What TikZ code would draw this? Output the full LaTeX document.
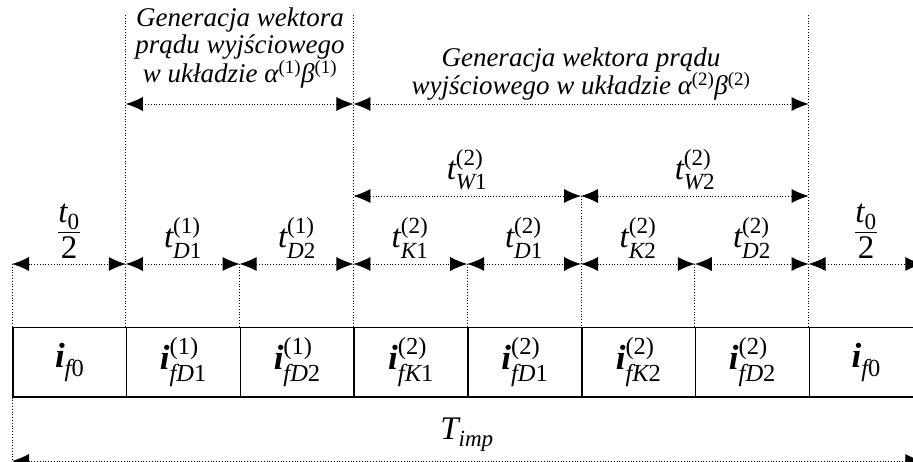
\documentclass[tikz,border=0pt]{standalone}
\usepackage{amsmath}
\usepackage{fontspec}
\setmainfont{Liberation Serif}
\usetikzlibrary{arrows.meta}
\newcommand{\bvec}{\text{\bfseries\itshape i}}
\begin{document}
\begin{tikzpicture}[x=1pt,y=-1pt,
  tip/.tip={Latex[length=17pt,width=14pt]},
  dim/.style={dotted, line width=0.8pt, {tip}-{tip}},
  guide/.style={dotted, line width=0.8pt},
  cell/.style={draw, line width=1.5pt, minimum width=113.8pt, minimum height=69pt, inner sep=0pt, anchor=north west, font=\fontsize{35}{36}\selectfont},
  lbl/.style={font=\fontsize{33}{36}\selectfont, inner sep=0pt},
  head/.style={font=\itshape\fontsize{27}{26.5}\selectfont, align=center, inner sep=0pt}]
\useasboundingbox (0,0) rectangle (913,462);
\clip (0,0) rectangle (913,462);
\def\w{113.8}
% boxes
\node[cell] (b1) at (12,327) {$\bvec_{\textit{f}\text{0}}$};
\node[cell] (b2) at ({12+\w},327) {$\bvec^{\text{(1)}}_{\textit{fD}\text{1}}$};
\node[cell] (b3) at ({12+2*\w},327) {$\bvec^{\text{(1)}}_{\textit{fD}\text{2}}$};
\node[cell] (b4) at ({12+3*\w},327) {$\bvec^{\text{(2)}}_{\textit{fK}\text{1}}$};
\node[cell] (b5) at ({12+4*\w},327) {$\bvec^{\text{(2)}}_{\textit{fD}\text{1}}$};
\node[cell] (b6) at ({12+5*\w},327) {$\bvec^{\text{(2)}}_{\textit{fK}\text{2}}$};
\node[cell] (b7) at ({12+6*\w},327) {$\bvec^{\text{(2)}}_{\textit{fD}\text{2}}$};
\node[cell] (b8) at ({12+7*\w},327) {$\bvec_{\textit{f}\text{0}}$};
% coordinates
\foreach \k in {0,...,8} {
  \coordinate (c\k) at ({12+\k*\w},264);
  \coordinate (w\k) at ({12+\k*\w},196);
  \coordinate (g\k) at ({12+\k*\w},104);
  \coordinate (top\k) at ({12+\k*\w},15);
  \coordinate (bot\k) at ({12+\k*\w},461);
}
% guides
\draw[guide] (c0) -- (b1.north west);
\draw[guide] (b1.south west) -- (bot0);
\draw[guide] (top1) -- (b2.north west);
\draw[guide] (c2) -- (b3.north west);
\draw[guide] (top3) -- (b4.north west);
\draw[guide] (c4) -- (b5.north west);
\draw[guide] (w5) -- (b6.north west);
\draw[guide] (c6) -- (b7.north west);
\draw[guide] (top7) -- (b8.north west);
% dimension arrows
\foreach \a/\b in {0/1,1/2,2/3,3/4,4/5,5/6,6/7,7/8} {
  \draw[dim] (c\a) -- (c\b);
}
\draw[dim] (w3) -- (w5);
\draw[dim] (w5) -- (w7);
\draw[dim] (g1) -- (g3);
\draw[dim] (g3) -- (g7);
\draw[dim] (bot0) -- (bot8);
% labels
\node[lbl] (l1) at (69,231) {$\dfrac{\textit{t}_{\text{0}}}{\text{2}}$};
\node[lbl] (l2) at (183,238) {$\textit{t}^{\text{(1)}}_{\textit{D}\text{1}}$};
\node[lbl] (l3) at (297,238) {$\textit{t}^{\text{(1)}}_{\textit{D}\text{2}}$};
\node[lbl] (l4) at (410,238) {$\textit{t}^{\text{(2)}}_{\textit{K}\text{1}}$};
\node[lbl] (l5) at (524,238) {$\textit{t}^{\text{(2)}}_{\textit{D}\text{1}}$};
\node[lbl] (l6) at (638,238) {$\textit{t}^{\text{(2)}}_{\textit{K}\text{2}}$};
\node[lbl] (l7) at (752,238) {$\textit{t}^{\text{(2)}}_{\textit{D}\text{2}}$};
\node[lbl] (l8) at (866,231) {$\dfrac{\textit{t}_{\text{0}}}{\text{2}}$};
\node[lbl] (lw1) at (467,170) {$\textit{t}^{\text{(2)}}_{\textit{W}\text{1}}$};
\node[lbl] (lw2) at (695,170) {$\textit{t}^{\text{(2)}}_{\textit{W}\text{2}}$};
\node[lbl] (lt) at (467,435) {$\textit{T}_{\textit{imp}}$};
\node[head] (h1) at (240,48) {Generacja wektora\\prądu wyjściowego\\w układzie \textit{α}\textsuperscript{\upshape(1)}\textit{β}\textsuperscript{\upshape(1)}};
\node[head] (h2) at (581,74) {Generacja wektora prądu\\wyjściowego w układzie \textit{α}\textsuperscript{\upshape(2)}\textit{β}\textsuperscript{\upshape(2)}};
\end{tikzpicture}
\end{document}
